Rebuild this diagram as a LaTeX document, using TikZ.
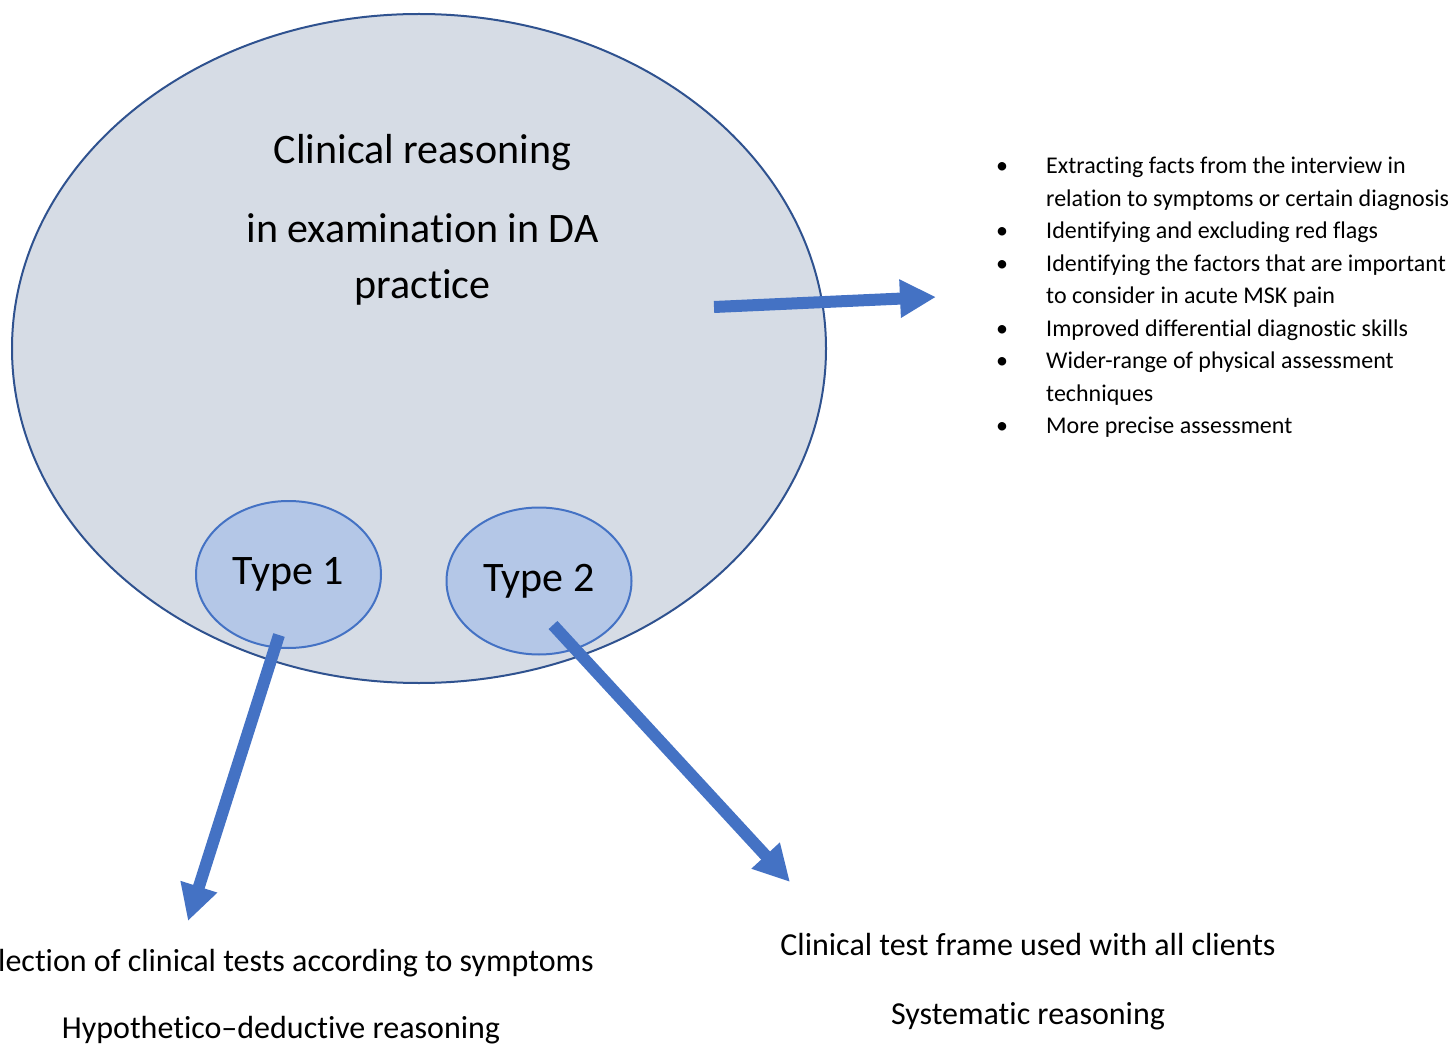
\documentclass[tikz,border=0pt]{standalone}
\usepackage{fontspec}
\setmainfont{Carlito}[Ligatures={TeX,NoCommon}]
\usetikzlibrary{arrows.meta,positioning,shapes.geometric}
\definecolor{ovalfill}{RGB}{214,220,229}
\definecolor{ovaldraw}{RGB}{47,82,143}
\definecolor{typefill}{RGB}{180,199,231}
\definecolor{accent}{RGB}{68,114,196}
\tikzset{%
  mainoval/.style={draw=ovaldraw, fill=ovalfill, line width=2pt, shape=ellipse,
    inner sep=0pt, minimum width=814pt, minimum height=669pt},% whole practice
  typeoval/.style={draw=accent, fill=typefill, line width=2pt, shape=ellipse,
    inner sep=0pt, minimum width=185pt, minimum height=147pt,
    font=\fontsize{42}{50}\selectfont},% type 1 / type 2
  bigarrow/.style={draw=accent, line width=12pt,
    -{Triangle[length=36pt,width=36pt]}},% blue block arrows
  title/.style={align=center, inner sep=0pt, font=\fontsize{42}{56}\selectfont},
  outcome/.style={inner sep=0pt, font=\fontsize{32}{38}\selectfont},% text under the arrows
  facts/.style={inner sep=0pt, font=\fontsize{24}{32.5}\selectfont}
}
\begin{document}
\begin{tikzpicture}[x=1pt, y=-1pt]
\useasboundingbox (0,0) rectangle (1456,1048);
\node[mainoval] (practice) at (419,348.5) {};
\node[title, anchor=base] (reasoning) at (422.5,299)
  {Clinical reasoning\\[23pt] in examination in DA\\ practice};
\node[typeoval] (type1) at (288.5,574.5) {Type 1};
\node[typeoval] (type2) at (539,581) {Type 2};
\node[facts, anchor=base west] (list) at (996,174) {%
  \begin{tabular}[t]{@{}p{50pt}@{}l@{}}
  \textbullet & Extracting facts from the interview in\\
   & relation to symptoms or certain diagnosis\\
  \textbullet & Identifying and excluding red flags\\
  \textbullet & Identifying the factors that are important\\
   & to consider in acute MSK pain\\
  \textbullet & Improved differential diagnostic skills\\
  \textbullet & Wider-range of physical assessment\\
   & techniques\\
  \textbullet & More precise assessment
  \end{tabular}};
\node[outcome, anchor=base west] (selection) at (-2,971)
  {lection of clinical tests according to symptoms};
\node[outcome, anchor=base] (hypothetico) at (281,1038) {Hypothetico--deductive reasoning};
\node[outcome, anchor=base] (frame) at (1028,955) {Clinical test frame used with all clients};
\node[outcome, anchor=base] (systematic) at (1028,1024) {Systematic reasoning};
% arrow ends
\coordinate (out1) at (714,307);
\coordinate (in1) at (936,297);
\coordinate (out2) at (279,635);
\coordinate (in2) at (188,921);
\coordinate (out3) at (553,625);
\coordinate (in3) at (790,882);
\draw[bigarrow] (out1) -- (in1);
\draw[bigarrow] (out2) -- (in2);
\draw[bigarrow] (out3) -- (in3);
\end{tikzpicture}
\end{document}
